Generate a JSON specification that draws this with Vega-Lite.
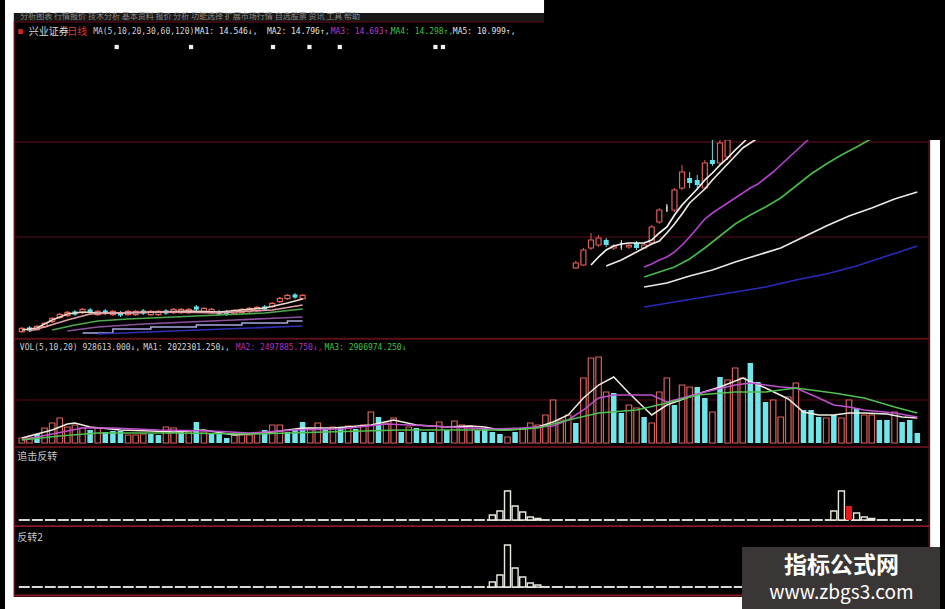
{
"$schema":"https://vega.github.io/schema/vega-lite/v6.json",
"background":"#000000",
"padding":0,
"spacing":0,
"bounds":"flush",
"config":{"view":{"stroke":null,"fill":"#000000"},"axis":{"disable":true},"legend":{"disable":true},"text":{"font":"DejaVu Sans Mono"}},
"resolve":{"scale":{"x":"independent","y":"independent","color":"independent"}},
"datasets":{
"candles":[
{"i":0,"o":0.42,"c":0.58,"h":0.65,"l":0.35,"d":"u"},{"i":1,"o":0.63,"c":0.47,"h":0.7,"l":0.4,"d":"d"},{"i":2,"o":0.52,"c":0.68,"h":0.75,"l":0.45,"d":"u"},{"i":3,"o":0.67,"c":0.83,"h":0.9,"l":0.6,"d":"u"},{"i":4,"o":0.92,"c":1.08,"h":1.15,"l":0.85,"d":"u"},{"i":5,"o":1.12,"c":1.28,"h":1.35,"l":1.05,"d":"u"},{"i":6,"o":1.22,"c":1.38,"h":1.45,"l":1.15,"d":"u"},{"i":7,"o":1.43,"c":1.27,"h":1.5,"l":1.2,"d":"d"},{"i":8,"o":1.37,"c":1.53,"h":1.6,"l":1.3,"d":"u"},{"i":9,"o":1.53,"c":1.37,"h":1.6,"l":1.3,"d":"d"},
{"i":10,"o":1.27,"c":1.43,"h":1.5,"l":1.2,"d":"u"},{"i":11,"o":1.48,"c":1.32,"h":1.55,"l":1.25,"d":"d"},{"i":12,"o":1.27,"c":1.43,"h":1.5,"l":1.2,"d":"u"},{"i":13,"o":1.38,"c":1.22,"h":1.45,"l":1.15,"d":"d"},{"i":14,"o":1.27,"c":1.43,"h":1.5,"l":1.2,"d":"u"},{"i":15,"o":1.27,"c":1.43,"h":1.5,"l":1.2,"d":"u"},{"i":16,"o":1.48,"c":1.32,"h":1.55,"l":1.25,"d":"d"},{"i":17,"o":1.27,"c":1.43,"h":1.5,"l":1.2,"d":"u"},{"i":18,"o":1.27,"c":1.43,"h":1.5,"l":1.2,"d":"u"},{"i":19,"o":1.48,"c":1.32,"h":1.55,"l":1.25,"d":"d"},
{"i":20,"o":1.37,"c":1.53,"h":1.6,"l":1.3,"d":"u"},{"i":21,"o":1.37,"c":1.53,"h":1.6,"l":1.3,"d":"u"},{"i":22,"o":1.37,"c":1.53,"h":1.6,"l":1.3,"d":"u"},{"i":23,"o":1.68,"c":1.52,"h":1.75,"l":1.45,"d":"d"},{"i":24,"o":1.42,"c":1.58,"h":1.65,"l":1.35,"d":"u"},{"i":25,"o":1.37,"c":1.53,"h":1.6,"l":1.3,"d":"u"},{"i":26,"o":1.43,"c":1.27,"h":1.5,"l":1.2,"d":"d"},{"i":27,"o":1.43,"c":1.27,"h":1.5,"l":1.2,"d":"d"},{"i":28,"o":1.32,"c":1.48,"h":1.55,"l":1.25,"d":"u"},{"i":29,"o":1.37,"c":1.53,"h":1.6,"l":1.3,"d":"u"},
{"i":30,"o":1.42,"c":1.58,"h":1.65,"l":1.35,"d":"u"},{"i":31,"o":1.47,"c":1.63,"h":1.7,"l":1.4,"d":"u"},{"i":32,"o":1.68,"c":1.52,"h":1.75,"l":1.45,"d":"d"},{"i":33,"o":1.67,"c":1.83,"h":1.9,"l":1.6,"d":"u"},{"i":34,"o":1.92,"c":2.08,"h":2.15,"l":1.85,"d":"u"},{"i":35,"o":2.07,"c":2.23,"h":2.3,"l":2.0,"d":"u"},{"i":36,"o":2.28,"c":2.12,"h":2.35,"l":2.05,"d":"d"},{"i":37,"o":2.07,"c":2.23,"h":2.3,"l":2.0,"d":"u"},
{"i":73,"o":3.6,"c":3.85,"h":3.95,"l":3.55,"d":"u"},{"i":74,"o":3.75,"c":4.5,"h":4.6,"l":3.7,"d":"u"},{"i":75,"o":4.6,"c":5.0,"h":5.35,"l":4.5,"d":"u"},{"i":76,"o":4.75,"c":5.1,"h":5.25,"l":4.65,"d":"u"},{"i":77,"o":5.0,"c":4.75,"h":5.1,"l":4.65,"d":"d"},{"i":78,"o":4.6,"c":4.7,"h":4.8,"l":4.5,"d":"u"},{"i":79,"o":4.75,"c":4.75,"h":5.0,"l":4.5,"d":"f"},{"i":80,"o":4.65,"c":4.73,"h":4.8,"l":4.55,"d":"u"},{"i":81,"o":4.85,"c":4.6,"h":4.95,"l":4.5,"d":"d"},{"i":82,"o":4.6,"c":4.75,"h":4.85,"l":4.55,"d":"u"},
{"i":83,"o":4.85,"c":5.65,"h":5.75,"l":4.8,"d":"u"},{"i":84,"o":5.9,"c":6.5,"h":6.6,"l":5.8,"d":"u"},{"i":85,"o":6.57,"c":6.57,"h":6.8,"l":6.4,"d":"f"},{"i":86,"o":6.5,"c":7.5,"h":7.6,"l":6.4,"d":"u"},{"i":87,"o":7.6,"c":8.4,"h":8.75,"l":7.5,"d":"u"},{"i":88,"o":8.1,"c":7.85,"h":8.4,"l":7.6,"d":"d"},{"i":89,"o":8.0,"c":7.75,"h":8.25,"l":7.5,"d":"d"},{"i":90,"o":7.6,"c":8.85,"h":9.0,"l":7.5,"d":"u"},{"i":91,"o":9.0,"c":8.8,"h":10.0,"l":8.7,"d":"d"},{"i":92,"o":8.85,"c":9.85,"h":10.0,"l":8.75,"d":"u"},{"i":93,"o":9.15,"c":10.0,"h":10.0,"l":9.0,"d":"u"}
],
"plines":[
{"i":0,"s":"L5","v":0.5},{"i":2,"s":"L5","v":0.6},{"i":4,"s":"L5","v":1.0},{"i":6,"s":"L5","v":1.3},{"i":8,"s":"L5","v":1.4},{"i":10,"s":"L5","v":1.35},{"i":14,"s":"L5","v":1.35},{"i":18,"s":"L5","v":1.4},{"i":22,"s":"L5","v":1.45},{"i":26,"s":"L5","v":1.4},{"i":29,"s":"L5","v":1.5},{"i":32,"s":"L5","v":1.6},{"i":35,"s":"L5","v":1.85},{"i":37,"s":"L5","v":2.05},
{"i":1,"s":"L10","v":0.45},{"i":3,"s":"L10","v":0.65},{"i":6,"s":"L10","v":1.0},{"i":9,"s":"L10","v":1.3},{"i":12,"s":"L10","v":1.35},{"i":16,"s":"L10","v":1.4},{"i":20,"s":"L10","v":1.4},{"i":26,"s":"L10","v":1.35},{"i":30,"s":"L10","v":1.45},{"i":33,"s":"L10","v":1.5},{"i":37,"s":"L10","v":1.75},
{"i":4,"s":"L20","v":0.5},{"i":7,"s":"L20","v":0.75},{"i":10,"s":"L20","v":0.95},{"i":14,"s":"L20","v":1.05},{"i":20,"s":"L20","v":1.15},{"i":26,"s":"L20","v":1.25},{"i":32,"s":"L20","v":1.35},{"i":37,"s":"L20","v":1.55},
{"i":6,"s":"L30","v":0.45},{"i":10,"s":"L30","v":0.65},{"i":16,"s":"L30","v":0.8},{"i":22,"s":"L30","v":0.9},{"i":28,"s":"L30","v":1.0},{"i":34,"s":"L30","v":1.1},{"i":37,"s":"L30","v":1.15},
{"i":10,"s":"L120","v":0.3},{"i":20,"s":"L120","v":0.45},{"i":30,"s":"L120","v":0.6},{"i":37,"s":"L120","v":0.7},
{"i":75,"s":"R5","v":3.75},{"i":76,"s":"R5","v":4.15},{"i":77,"s":"R5","v":4.5},{"i":78,"s":"R5","v":4.7},{"i":79,"s":"R5","v":4.8},{"i":80,"s":"R5","v":4.85},{"i":82,"s":"R5","v":4.85},{"i":83,"s":"R5","v":5.0},{"i":84,"s":"R5","v":5.35},{"i":85,"s":"R5","v":5.65},{"i":86,"s":"R5","v":6.25},{"i":87,"s":"R5","v":6.75},{"i":88,"s":"R5","v":7.15},{"i":89,"s":"R5","v":7.55},{"i":90,"s":"R5","v":8.0},{"i":91,"s":"R5","v":8.35},{"i":92,"s":"R5","v":8.75},{"i":93,"s":"R5","v":9.1},{"i":94,"s":"R5","v":9.5},{"i":95,"s":"R5","v":9.85},{"i":96,"s":"R5","v":10.25},
{"i":77,"s":"R10","v":3.7},{"i":78,"s":"R10","v":3.85},{"i":79,"s":"R10","v":4.0},{"i":80,"s":"R10","v":4.2},{"i":81,"s":"R10","v":4.4},{"i":82,"s":"R10","v":4.6},{"i":83,"s":"R10","v":4.8},{"i":84,"s":"R10","v":4.95},{"i":85,"s":"R10","v":5.35},{"i":86,"s":"R10","v":5.8},{"i":87,"s":"R10","v":6.3},{"i":88,"s":"R10","v":6.85},{"i":89,"s":"R10","v":7.2},{"i":90,"s":"R10","v":7.55},{"i":91,"s":"R10","v":8.0},{"i":92,"s":"R10","v":8.4},{"i":93,"s":"R10","v":8.8},{"i":94,"s":"R10","v":9.2},{"i":95,"s":"R10","v":9.6},{"i":96,"s":"R10","v":9.85},{"i":97,"s":"R10","v":10.1},
{"i":82,"s":"R20","v":3.65},{"i":83,"s":"R20","v":3.8},{"i":84,"s":"R20","v":4.0},{"i":85,"s":"R20","v":4.15},{"i":86,"s":"R20","v":4.4},{"i":87,"s":"R20","v":4.75},{"i":88,"s":"R20","v":5.15},{"i":89,"s":"R20","v":5.6},{"i":90,"s":"R20","v":6.05},{"i":91,"s":"R20","v":6.35},{"i":92,"s":"R20","v":6.6},{"i":93,"s":"R20","v":6.85},{"i":94,"s":"R20","v":7.1},{"i":95,"s":"R20","v":7.35},{"i":96,"s":"R20","v":7.6},{"i":97,"s":"R20","v":7.8},{"i":98,"s":"R20","v":8.1},{"i":99,"s":"R20","v":8.4},{"i":100,"s":"R20","v":8.75},{"i":101,"s":"R20","v":9.1},{"i":102,"s":"R20","v":9.45},{"i":103,"s":"R20","v":9.8},{"i":104,"s":"R20","v":10.15},
{"i":82,"s":"R30","v":3.15},{"i":84,"s":"R30","v":3.4},{"i":86,"s":"R30","v":3.65},{"i":88,"s":"R30","v":4.05},{"i":90,"s":"R30","v":4.6},{"i":92,"s":"R30","v":5.2},{"i":94,"s":"R30","v":5.8},{"i":96,"s":"R30","v":6.25},{"i":98,"s":"R30","v":6.65},{"i":100,"s":"R30","v":7.1},{"i":102,"s":"R30","v":7.7},{"i":104,"s":"R30","v":8.3},{"i":106,"s":"R30","v":8.8},{"i":108,"s":"R30","v":9.25},{"i":110,"s":"R30","v":9.65},{"i":112,"s":"R30","v":10.07},
{"i":82,"s":"R60","v":2.65},{"i":85,"s":"R60","v":2.85},{"i":88,"s":"R60","v":3.2},{"i":91,"s":"R60","v":3.5},{"i":94,"s":"R60","v":3.9},{"i":97,"s":"R60","v":4.25},{"i":100,"s":"R60","v":4.6},{"i":103,"s":"R60","v":5.15},{"i":106,"s":"R60","v":5.7},{"i":109,"s":"R60","v":6.2},{"i":112,"s":"R60","v":6.6},{"i":115,"s":"R60","v":7.05},{"i":118,"s":"R60","v":7.4},
{"i":82,"s":"R120","v":1.65},{"i":86,"s":"R120","v":1.9},{"i":90,"s":"R120","v":2.15},{"i":94,"s":"R120","v":2.4},{"i":98,"s":"R120","v":2.65},{"i":102,"s":"R120","v":3.0},{"i":106,"s":"R120","v":3.3},{"i":110,"s":"R120","v":3.7},{"i":114,"s":"R120","v":4.2},{"i":118,"s":"R120","v":4.7}
],
"pstep":[
{"i":8,"v":0.35},{"i":12,"v":0.55},{"i":17,"v":0.65},{"i":23,"v":0.75},{"i":29,"v":0.85},{"i":35,"v":0.95},{"i":37,"v":0.95}
],
"markers":[{"i":12.5},{"i":22.3},{"i":33.1},{"i":37.9},{"i":41.9},{"i":54.5},{"i":55.5}],
"vol":[
{"i":0,"v":25,"d":"u"},{"i":1,"v":30,"d":"u"},{"i":2,"v":45,"d":"d"},{"i":3,"v":75,"d":"u"},{"i":4,"v":100,"d":"u"},{"i":5,"v":125,"d":"u"},{"i":6,"v":80,"d":"u"},{"i":7,"v":90,"d":"u"},{"i":8,"v":75,"d":"u"},{"i":9,"v":65,"d":"d"},
{"i":10,"v":75,"d":"u"},{"i":11,"v":55,"d":"d"},{"i":12,"v":60,"d":"d"},{"i":13,"v":60,"d":"d"},{"i":14,"v":40,"d":"u"},{"i":15,"v":40,"d":"u"},{"i":16,"v":45,"d":"u"},{"i":17,"v":45,"d":"d"},{"i":18,"v":40,"d":"d"},{"i":19,"v":80,"d":"u"},
{"i":20,"v":75,"d":"u"},{"i":21,"v":55,"d":"d"},{"i":22,"v":55,"d":"u"},{"i":23,"v":105,"d":"d"},{"i":24,"v":55,"d":"u"},{"i":25,"v":50,"d":"d"},{"i":26,"v":45,"d":"d"},{"i":27,"v":25,"d":"d"},{"i":28,"v":40,"d":"u"},{"i":29,"v":40,"d":"u"},
{"i":30,"v":40,"d":"u"},{"i":31,"v":50,"d":"u"},{"i":32,"v":65,"d":"d"},{"i":33,"v":90,"d":"u"},{"i":34,"v":90,"d":"u"},{"i":35,"v":55,"d":"d"},{"i":36,"v":65,"d":"d"},{"i":37,"v":105,"d":"d"},{"i":38,"v":75,"d":"u"},{"i":39,"v":100,"d":"u"},
{"i":40,"v":65,"d":"d"},{"i":41,"v":80,"d":"u"},{"i":42,"v":75,"d":"d"},{"i":43,"v":85,"d":"u"},{"i":44,"v":70,"d":"d"},{"i":45,"v":90,"d":"u"},{"i":46,"v":155,"d":"u"},{"i":47,"v":130,"d":"d"},{"i":48,"v":100,"d":"u"},{"i":49,"v":125,"d":"u"},
{"i":50,"v":55,"d":"d"},{"i":51,"v":80,"d":"u"},{"i":52,"v":75,"d":"d"},{"i":53,"v":55,"d":"d"},{"i":54,"v":55,"d":"d"},{"i":55,"v":105,"d":"u"},{"i":56,"v":65,"d":"d"},{"i":57,"v":110,"d":"u"},{"i":58,"v":90,"d":"u"},{"i":59,"v":85,"d":"u"},
{"i":60,"v":65,"d":"d"},{"i":61,"v":70,"d":"d"},{"i":62,"v":55,"d":"d"},{"i":63,"v":45,"d":"d"},{"i":64,"v":30,"d":"u"},{"i":65,"v":55,"d":"d"},{"i":66,"v":75,"d":"u"},{"i":67,"v":100,"d":"u"},{"i":68,"v":90,"d":"u"},{"i":69,"v":140,"d":"u"},
{"i":70,"v":215,"d":"u"},{"i":71,"v":115,"d":"u"},{"i":72,"v":140,"d":"u"},{"i":73,"v":100,"d":"d"},{"i":74,"v":325,"d":"u"},{"i":75,"v":425,"d":"u"},{"i":76,"v":430,"d":"u"},{"i":77,"v":255,"d":"u"},{"i":78,"v":250,"d":"d"},{"i":79,"v":150,"d":"d"},
{"i":80,"v":190,"d":"u"},{"i":81,"v":175,"d":"u"},{"i":82,"v":130,"d":"d"},{"i":83,"v":100,"d":"u"},{"i":84,"v":255,"d":"u"},{"i":85,"v":325,"d":"u"},{"i":86,"v":190,"d":"d"},{"i":87,"v":290,"d":"u"},{"i":88,"v":280,"d":"u"},{"i":89,"v":280,"d":"d"},
{"i":90,"v":225,"d":"d"},{"i":91,"v":155,"d":"u"},{"i":92,"v":330,"d":"d"},{"i":93,"v":315,"d":"u"},{"i":94,"v":375,"d":"u"},{"i":95,"v":325,"d":"u"},{"i":96,"v":400,"d":"d"},{"i":97,"v":305,"d":"d"},{"i":98,"v":205,"d":"d"},{"i":99,"v":215,"d":"u"},
{"i":100,"v":130,"d":"u"},{"i":101,"v":230,"d":"u"},{"i":102,"v":300,"d":"u"},{"i":103,"v":165,"d":"d"},{"i":104,"v":165,"d":"d"},{"i":105,"v":130,"d":"d"},{"i":106,"v":125,"d":"u"},{"i":107,"v":140,"d":"d"},{"i":108,"v":125,"d":"u"},{"i":109,"v":215,"d":"u"},
{"i":110,"v":175,"d":"d"},{"i":111,"v":140,"d":"u"},{"i":112,"v":140,"d":"u"},{"i":113,"v":115,"d":"d"},{"i":114,"v":115,"d":"d"},{"i":115,"v":155,"d":"u"},{"i":116,"v":105,"d":"d"},{"i":117,"v":115,"d":"d"},{"i":118,"v":50,"d":"d"}
],
"vlines":[
{"i":0,"s":"V5","v":25},{"i":2,"s":"V5","v":45},{"i":4,"s":"V5","v":65},{"i":6,"s":"V5","v":95},{"i":7,"s":"V5","v":100},{"i":9,"s":"V5","v":80},{"i":13,"s":"V5","v":65},{"i":17,"s":"V5","v":60},{"i":20,"s":"V5","v":55},{"i":24,"s":"V5","v":65},{"i":28,"s":"V5","v":40},{"i":33,"s":"V5","v":55},{"i":37,"s":"V5","v":75},{"i":41,"s":"V5","v":75},{"i":46,"s":"V5","v":90},{"i":49,"s":"V5","v":115},{"i":52,"s":"V5","v":90},{"i":56,"s":"V5","v":80},{"i":59,"s":"V5","v":85},{"i":61,"s":"V5","v":80},{"i":63,"s":"V5","v":65},{"i":66,"s":"V5","v":70},{"i":68,"s":"V5","v":80},{"i":70,"s":"V5","v":105},{"i":72,"s":"V5","v":140},{"i":74,"s":"V5","v":225},{"i":76,"s":"V5","v":290},{"i":78,"s":"V5","v":330},{"i":80,"s":"V5","v":250},{"i":83,"s":"V5","v":140},{"i":85,"s":"V5","v":190},{"i":89,"s":"V5","v":245},{"i":92,"s":"V5","v":280},{"i":95,"s":"V5","v":325},{"i":98,"s":"V5","v":275},{"i":101,"s":"V5","v":220},{"i":103,"s":"V5","v":155},{"i":105,"s":"V5","v":140},{"i":107,"s":"V5","v":140},{"i":109,"s":"V5","v":150},{"i":111,"s":"V5","v":150},{"i":114,"s":"V5","v":145},{"i":116,"s":"V5","v":130},{"i":118,"s":"V5","v":125},
{"i":0,"s":"V10","v":15},{"i":4,"s":"V10","v":45},{"i":8,"s":"V10","v":75},{"i":12,"s":"V10","v":75},{"i":18,"s":"V10","v":65},{"i":25,"s":"V10","v":60},{"i":30,"s":"V10","v":50},{"i":36,"s":"V10","v":65},{"i":42,"s":"V10","v":70},{"i":48,"s":"V10","v":95},{"i":54,"s":"V10","v":85},{"i":59,"s":"V10","v":75},{"i":62,"s":"V10","v":70},{"i":66,"s":"V10","v":75},{"i":70,"s":"V10","v":85},{"i":72,"s":"V10","v":115},{"i":74,"s":"V10","v":165},{"i":76,"s":"V10","v":225},{"i":78,"s":"V10","v":240},{"i":83,"s":"V10","v":240},{"i":85,"s":"V10","v":205},{"i":87,"s":"V10","v":225},{"i":90,"s":"V10","v":255},{"i":94,"s":"V10","v":290},{"i":96,"s":"V10","v":300},{"i":98,"s":"V10","v":290},{"i":100,"s":"V10","v":280},{"i":102,"s":"V10","v":275},{"i":105,"s":"V10","v":225},{"i":107,"s":"V10","v":190},{"i":109,"s":"V10","v":180},{"i":111,"s":"V10","v":165},{"i":115,"s":"V10","v":150},{"i":118,"s":"V10","v":130},
{"i":0,"s":"V20","v":15},{"i":5,"s":"V20","v":35},{"i":10,"s":"V20","v":50},{"i":20,"s":"V20","v":50},{"i":30,"s":"V20","v":45},{"i":40,"s":"V20","v":55},{"i":50,"s":"V20","v":65},{"i":59,"s":"V20","v":65},{"i":64,"s":"V20","v":65},{"i":68,"s":"V20","v":75},{"i":72,"s":"V20","v":115},{"i":76,"s":"V20","v":150},{"i":81,"s":"V20","v":165},{"i":85,"s":"V20","v":200},{"i":89,"s":"V20","v":240},{"i":94,"s":"V20","v":255},{"i":98,"s":"V20","v":255},{"i":102,"s":"V20","v":275},{"i":107,"s":"V20","v":250},{"i":111,"s":"V20","v":225},{"i":115,"s":"V20","v":180},{"i":118,"s":"V20","v":150}
],
"zj":[{"i":62,"v":5,"d":"w"},{"i":63,"v":9,"d":"w"},{"i":64,"v":29,"d":"w"},{"i":65,"v":14,"d":"w"},{"i":66,"v":8,"d":"w"},{"i":67,"v":3,"d":"w"},{"i":68,"v":1.5,"d":"w"},{"i":107,"v":9,"d":"w"},{"i":108,"v":29,"d":"w"},{"i":109,"v":14,"d":"r"},{"i":110,"v":7,"d":"w"},{"i":111,"v":3,"d":"w"},{"i":112,"v":1.5,"d":"w"}],
"fz":[{"i":62,"v":5},{"i":63,"v":12},{"i":64,"v":42},{"i":65,"v":19},{"i":66,"v":10},{"i":67,"v":4},{"i":68,"v":2}]
},
"vconcat":[
{
"width":945,"height":340,
"layer":[
{"data":{"values":[{}]},"mark":{"type":"rect","color":"#ffffff"},"encoding":{"x":{"datum":-2.216,"type":"quantitative","scale":{"domain":[-2.216,120.99],"nice":false,"zero":false}},"x2":{"datum":68.84},"y":{"datum":16.35,"type":"quantitative","scale":{"domain":[0,17],"nice":false,"zero":false}},"y2":{"datum":17}}},
{"data":{"values":[{}]},"mark":{"type":"rect","color":"#ffffff"},"encoding":{"x":{"datum":-2.216,"type":"quantitative","scale":{"domain":[-2.216,120.99],"nice":false,"zero":false}},"x2":{"datum":-1.043},"y":{"datum":0,"type":"quantitative","scale":{"domain":[0,17],"nice":false,"zero":false}},"y2":{"datum":17}}},
{"data":{"values":[{}]},"mark":{"type":"rect","color":"#ffffff"},"encoding":{"x":{"datum":119.69,"type":"quantitative","scale":{"domain":[-2.216,120.99],"nice":false,"zero":false}},"x2":{"datum":120.99},"y":{"datum":0,"type":"quantitative","scale":{"domain":[0,17],"nice":false,"zero":false}},"y2":{"datum":10}}},
{"data":{"values":[{}]},"mark":{"type":"rect","color":"#181818"},"encoding":{"x":{"datum":-1.043,"type":"quantitative","scale":{"domain":[-2.216,120.99],"nice":false,"zero":false}},"x2":{"datum":68.84},"y":{"datum":15.95,"type":"quantitative","scale":{"domain":[0,17],"nice":false,"zero":false}},"y2":{"datum":16.35}}},
{"data":{"values":[{}]},"mark":{"type":"text","align":"left","baseline":"middle","color":"#8a8a8a","fontSize":8,"font":"Noto Sans CJK SC"},"encoding":{"x":{"datum":-0.2,"type":"quantitative","scale":{"domain":[-2.216,120.99],"nice":false,"zero":false}},"y":{"datum":16.15,"type":"quantitative","scale":{"domain":[0,17],"nice":false,"zero":false}},"text":{"value":"分析图表 行情报价    技术分析    基本资料   报价   分析   功能选择   扩展市场行情   自选股票   资讯 工具 帮助"}}},
{"data":{"values":[{}]},"mark":{"type":"rule","color":"#4a0c14","strokeWidth":1.5},"encoding":{"x":{"datum":-0.98,"type":"quantitative","scale":{"domain":[-2.216,120.99],"nice":false,"zero":false}},"x2":{"datum":68.84},"y":{"datum":15.9,"type":"quantitative","scale":{"domain":[0,17],"nice":false,"zero":false}}}},
{"data":{"values":[{}]},"mark":{"type":"rule","color":"#4a0c14","strokeWidth":1.5},"encoding":{"x":{"datum":-0.98,"type":"quantitative","scale":{"domain":[-2.216,120.99],"nice":false,"zero":false}},"x2":{"datum":119.62},"y":{"datum":9.9,"type":"quantitative","scale":{"domain":[0,17],"nice":false,"zero":false}}}},
{"data":{"values":[{}]},"mark":{"type":"rule","color":"#3e0a10","strokeWidth":1.5},"encoding":{"x":{"datum":-0.98,"type":"quantitative","scale":{"domain":[-2.216,120.99],"nice":false,"zero":false}},"x2":{"datum":119.62},"y":{"datum":5.15,"type":"quantitative","scale":{"domain":[0,17],"nice":false,"zero":false}}}},
{"data":{"values":[{}]},"mark":{"type":"rule","color":"#5c1019","strokeWidth":2},"encoding":{"x":{"datum":-0.98,"type":"quantitative","scale":{"domain":[-2.216,120.99],"nice":false,"zero":false}},"x2":{"datum":119.62},"y":{"datum":0.06,"type":"quantitative","scale":{"domain":[0,17],"nice":false,"zero":false}}}},
{"data":{"values":[{}]},"mark":{"type":"rule","color":"#5c1019","strokeWidth":1.5},"encoding":{"x":{"datum":-0.98,"type":"quantitative","scale":{"domain":[-2.216,120.99],"nice":false,"zero":false}},"y":{"datum":0,"type":"quantitative","scale":{"domain":[0,17],"nice":false,"zero":false}},"y2":{"datum":15.95}}},
{"data":{"values":[{}]},"mark":{"type":"rule","color":"#5c1019","strokeWidth":1.5},"encoding":{"x":{"datum":119.55,"type":"quantitative","scale":{"domain":[-2.216,120.99],"nice":false,"zero":false}},"y":{"datum":0,"type":"quantitative","scale":{"domain":[0,17],"nice":false,"zero":false}},"y2":{"datum":10}}},
{"data":{"values":[{}]},"mark":{"type":"text","align":"left","baseline":"middle","color":"#c82828","fontSize":8},"encoding":{"x":{"datum":-0.5,"type":"quantitative","scale":{"domain":[-2.216,120.99],"nice":false,"zero":false}},"y":{"datum":15.4,"type":"quantitative","scale":{"domain":[0,17],"nice":false,"zero":false}},"text":{"value":"■"}}},
{"data":{"values":[{}]},"mark":{"type":"text","align":"left","baseline":"middle","color":"#d8d8d8","fontSize":10,"font":"Noto Sans CJK SC"},"encoding":{"x":{"datum":0.9,"type":"quantitative","scale":{"domain":[-2.216,120.99],"nice":false,"zero":false}},"y":{"datum":15.4,"type":"quantitative","scale":{"domain":[0,17],"nice":false,"zero":false}},"text":{"value":"兴业证券"}}},
{"data":{"values":[{}]},"mark":{"type":"text","align":"left","baseline":"middle","color":"#d83a3a","fontSize":10,"font":"Noto Sans CJK SC"},"encoding":{"x":{"datum":6.0,"type":"quantitative","scale":{"domain":[-2.216,120.99],"nice":false,"zero":false}},"y":{"datum":15.4,"type":"quantitative","scale":{"domain":[0,17],"nice":false,"zero":false}},"text":{"value":"日线"}}},
{"data":{"values":[{}]},"mark":{"type":"text","align":"left","baseline":"middle","color":"#d0d0d0","fontSize":8},"encoding":{"x":{"datum":9.4,"type":"quantitative","scale":{"domain":[-2.216,120.99],"nice":false,"zero":false}},"y":{"datum":15.4,"type":"quantitative","scale":{"domain":[0,17],"nice":false,"zero":false}},"text":{"value":"MA(5,10,20,30,60,120)"}}},
{"data":{"values":[{}]},"mark":{"type":"text","align":"left","baseline":"middle","color":"#e0e0e0","fontSize":8},"encoding":{"x":{"datum":22.8,"type":"quantitative","scale":{"domain":[-2.216,120.99],"nice":false,"zero":false}},"y":{"datum":15.4,"type":"quantitative","scale":{"domain":[0,17],"nice":false,"zero":false}},"text":{"value":"MA1: 14.546↓,"}}},
{"data":{"values":[{}]},"mark":{"type":"text","align":"left","baseline":"middle","color":"#e8e4d8","fontSize":8},"encoding":{"x":{"datum":32.3,"type":"quantitative","scale":{"domain":[-2.216,120.99],"nice":false,"zero":false}},"y":{"datum":15.4,"type":"quantitative","scale":{"domain":[0,17],"nice":false,"zero":false}},"text":{"value":"MA2: 14.796↑,"}}},
{"data":{"values":[{}]},"mark":{"type":"text","align":"left","baseline":"middle","color":"#b83cc0","fontSize":8},"encoding":{"x":{"datum":40.7,"type":"quantitative","scale":{"domain":[-2.216,120.99],"nice":false,"zero":false}},"y":{"datum":15.4,"type":"quantitative","scale":{"domain":[0,17],"nice":false,"zero":false}},"text":{"value":"MA3: 14.693↑,"}}},
{"data":{"values":[{}]},"mark":{"type":"text","align":"left","baseline":"middle","color":"#40c040","fontSize":8},"encoding":{"x":{"datum":48.6,"type":"quantitative","scale":{"domain":[-2.216,120.99],"nice":false,"zero":false}},"y":{"datum":15.4,"type":"quantitative","scale":{"domain":[0,17],"nice":false,"zero":false}},"text":{"value":"MA4: 14.298↑,"}}},
{"data":{"values":[{}]},"mark":{"type":"text","align":"left","baseline":"middle","color":"#e0e0e0","fontSize":8},"encoding":{"x":{"datum":56.8,"type":"quantitative","scale":{"domain":[-2.216,120.99],"nice":false,"zero":false}},"y":{"datum":15.4,"type":"quantitative","scale":{"domain":[0,17],"nice":false,"zero":false}},"text":{"value":"MA5: 10.999↑,"}}},
{"data":{"name":"markers"},"mark":{"type":"square","color":"#f0f0f0","opacity":1,"size":18},"encoding":{"x":{"field":"i","type":"quantitative","scale":{"domain":[-2.216,120.99],"nice":false,"zero":false}},"y":{"datum":14.65,"type":"quantitative","scale":{"domain":[0,17],"nice":false,"zero":false}}}},
{"data":{"name":"candles"},"transform":[{"filter":"datum.d == 'u'"}],"mark":{"type":"rule","strokeWidth":1,"color":"#e0605a"},"encoding":{"x":{"field":"i","type":"quantitative","scale":{"domain":[-2.216,120.99],"nice":false,"zero":false}},"y":{"field":"l","type":"quantitative","scale":{"domain":[0,17],"nice":false,"zero":false}},"y2":{"field":"h"}}},
{"data":{"name":"candles"},"transform":[{"filter":"datum.d == 'd'"}],"mark":{"type":"rule","strokeWidth":1,"color":"#60e0e8"},"encoding":{"x":{"field":"i","type":"quantitative","scale":{"domain":[-2.216,120.99],"nice":false,"zero":false}},"y":{"field":"l","type":"quantitative","scale":{"domain":[0,17],"nice":false,"zero":false}},"y2":{"field":"h"}}},
{"data":{"name":"candles"},"transform":[{"filter":"datum.d == 'f'"}],"mark":{"type":"rule","strokeWidth":1,"color":"#e8e8e8"},"encoding":{"x":{"field":"i","type":"quantitative","scale":{"domain":[-2.216,120.99],"nice":false,"zero":false}},"y":{"field":"l","type":"quantitative","scale":{"domain":[0,17],"nice":false,"zero":false}},"y2":{"field":"h"}}},
{"data":{"name":"candles"},"transform":[{"filter":"datum.d == 'u'"}],"mark":{"type":"bar","fill":"#000000","stroke":"#e0605a","strokeWidth":1.2,"width":5},"encoding":{"x":{"field":"i","type":"quantitative","scale":{"domain":[-2.216,120.99],"nice":false,"zero":false}},"y":{"field":"o","type":"quantitative","scale":{"domain":[0,17],"nice":false,"zero":false}},"y2":{"field":"c"}}},
{"data":{"name":"candles"},"transform":[{"filter":"datum.d == 'd'"}],"mark":{"type":"bar","color":"#60e0e8","width":5},"encoding":{"x":{"field":"i","type":"quantitative","scale":{"domain":[-2.216,120.99],"nice":false,"zero":false}},"y":{"field":"o","type":"quantitative","scale":{"domain":[0,17],"nice":false,"zero":false}},"y2":{"field":"c"}}},
{"data":{"name":"candles"},"transform":[{"filter":"datum.d == 'f'"}],"mark":{"type":"tick","color":"#e8e8e8","thickness":1.5,"size":6},"encoding":{"x":{"field":"i","type":"quantitative","scale":{"domain":[-2.216,120.99],"nice":false,"zero":false}},"y":{"field":"o","type":"quantitative","scale":{"domain":[0,17],"nice":false,"zero":false}}}},
{"data":{"name":"pstep"},"mark":{"type":"line","interpolate":"step-after","color":"#a8a8e0","strokeWidth":1.5},"encoding":{"x":{"field":"i","type":"quantitative","scale":{"domain":[-2.216,120.99],"nice":false,"zero":false}},"y":{"field":"v","type":"quantitative","scale":{"domain":[0,17],"nice":false,"zero":false}}}},
{"data":{"name":"plines"},"mark":{"type":"line","strokeWidth":1.7},"encoding":{"x":{"field":"i","type":"quantitative","scale":{"domain":[-2.216,120.99],"nice":false,"zero":false}},"y":{"field":"v","type":"quantitative","scale":{"domain":[0,17],"nice":false,"zero":false}},"color":{"field":"s","type":"nominal","scale":{"domain":["L5","L10","L20","L30","L120","R5","R10","R20","R30","R60","R120"],"range":["#f0d8c8","#e0a0a8","#50a850","#9050a0","#3030b0","#f5f5f5","#efe6dc","#b040c8","#48b848","#e8e8e8","#2a2ab8"]}}}},
{"data":{"values":[{}]},"mark":{"type":"rect","color":"#000000"},"encoding":{"x":{"datum":68.84,"type":"quantitative","scale":{"domain":[-2.216,120.99],"nice":false,"zero":false}},"x2":{"datum":120.99},"y":{"datum":10.0,"type":"quantitative","scale":{"domain":[0,17],"nice":false,"zero":false}},"y2":{"datum":17}}}
]
},
{
"width":945,"height":108,
"layer":[
{"data":{"values":[{}]},"mark":{"type":"rect","color":"#ffffff"},"encoding":{"x":{"datum":-2.216,"type":"quantitative","scale":{"domain":[-2.216,120.99],"nice":false,"zero":false}},"x2":{"datum":-1.043},"y":{"datum":-25,"type":"quantitative","scale":{"domain":[-25,515],"nice":false,"zero":false}},"y2":{"datum":515}}},
{"data":{"values":[{}]},"mark":{"type":"rect","color":"#ffffff"},"encoding":{"x":{"datum":119.69,"type":"quantitative","scale":{"domain":[-2.216,120.99],"nice":false,"zero":false}},"x2":{"datum":120.99},"y":{"datum":-25,"type":"quantitative","scale":{"domain":[-25,515],"nice":false,"zero":false}},"y2":{"datum":515}}},
{"data":{"values":[{}]},"mark":{"type":"rule","color":"#5c1019","strokeWidth":1.5},"encoding":{"x":{"datum":-0.98,"type":"quantitative","scale":{"domain":[-2.216,120.99],"nice":false,"zero":false}},"y":{"datum":-25,"type":"quantitative","scale":{"domain":[-25,515],"nice":false,"zero":false}},"y2":{"datum":515}}},
{"data":{"values":[{}]},"mark":{"type":"rule","color":"#5c1019","strokeWidth":1.5},"encoding":{"x":{"datum":119.55,"type":"quantitative","scale":{"domain":[-2.216,120.99],"nice":false,"zero":false}},"y":{"datum":-25,"type":"quantitative","scale":{"domain":[-25,515],"nice":false,"zero":false}},"y2":{"datum":515}}},
{"data":{"values":[{}]},"mark":{"type":"rule","color":"#3e0a10","strokeWidth":1.5},"encoding":{"x":{"datum":-0.98,"type":"quantitative","scale":{"domain":[-2.216,120.99],"nice":false,"zero":false}},"x2":{"datum":119.62},"y":{"datum":215,"type":"quantitative","scale":{"domain":[-25,515],"nice":false,"zero":false}}}},
{"data":{"values":[{}]},"mark":{"type":"rule","color":"#5c1019","strokeWidth":2},"encoding":{"x":{"datum":-0.98,"type":"quantitative","scale":{"domain":[-2.216,120.99],"nice":false,"zero":false}},"x2":{"datum":119.62},"y":{"datum":-20,"type":"quantitative","scale":{"domain":[-25,515],"nice":false,"zero":false}}}},
{"data":{"values":[{}]},"mark":{"type":"text","align":"left","baseline":"middle","color":"#d0d0d0","fontSize":8},"encoding":{"x":{"datum":-0.26,"type":"quantitative","scale":{"domain":[-2.216,120.99],"nice":false,"zero":false}},"y":{"datum":475,"type":"quantitative","scale":{"domain":[-25,515],"nice":false,"zero":false}},"text":{"value":"VOL(5,10,20) 928613.000↓,"}}},
{"data":{"values":[{}]},"mark":{"type":"text","align":"left","baseline":"middle","color":"#d8d8d8","fontSize":8},"encoding":{"x":{"datum":16.0,"type":"quantitative","scale":{"domain":[-2.216,120.99],"nice":false,"zero":false}},"y":{"datum":475,"type":"quantitative","scale":{"domain":[-25,515],"nice":false,"zero":false}},"text":{"value":"MA1: 2022301.250↓,"}}},
{"data":{"values":[{}]},"mark":{"type":"text","align":"left","baseline":"middle","color":"#b030c0","fontSize":8},"encoding":{"x":{"datum":28.2,"type":"quantitative","scale":{"domain":[-2.216,120.99],"nice":false,"zero":false}},"y":{"datum":475,"type":"quantitative","scale":{"domain":[-25,515],"nice":false,"zero":false}},"text":{"value":"MA2: 2497885.750↓,"}}},
{"data":{"values":[{}]},"mark":{"type":"text","align":"left","baseline":"middle","color":"#40c040","fontSize":8},"encoding":{"x":{"datum":39.9,"type":"quantitative","scale":{"domain":[-2.216,120.99],"nice":false,"zero":false}},"y":{"datum":475,"type":"quantitative","scale":{"domain":[-25,515],"nice":false,"zero":false}},"text":{"value":"MA3: 2906974.250↓"}}},
{"data":{"name":"vol"},"transform":[{"filter":"datum.d == 'u'"}],"mark":{"type":"bar","fill":"#000000","stroke":"#d8605c","strokeWidth":1.2,"width":5.5},"encoding":{"x":{"field":"i","type":"quantitative","scale":{"domain":[-2.216,120.99],"nice":false,"zero":false}},"y":{"field":"v","type":"quantitative","scale":{"domain":[-25,515],"nice":false,"zero":false}},"y2":{"datum":0}}},
{"data":{"name":"vol"},"transform":[{"filter":"datum.d == 'd'"}],"mark":{"type":"bar","color":"#70e6ea","width":5.5},"encoding":{"x":{"field":"i","type":"quantitative","scale":{"domain":[-2.216,120.99],"nice":false,"zero":false}},"y":{"field":"v","type":"quantitative","scale":{"domain":[-25,515],"nice":false,"zero":false}},"y2":{"datum":0}}},
{"data":{"name":"vlines"},"mark":{"type":"line","strokeWidth":1.5},"encoding":{"x":{"field":"i","type":"quantitative","scale":{"domain":[-2.216,120.99],"nice":false,"zero":false}},"y":{"field":"v","type":"quantitative","scale":{"domain":[-25,515],"nice":false,"zero":false}},"color":{"field":"s","type":"nominal","scale":{"domain":["V5","V10","V20"],"range":["#f0ece0","#c050d0","#50c050"]}}}}
]
},
{
"width":945,"height":79,
"layer":[
{"data":{"values":[{}]},"mark":{"type":"rect","color":"#ffffff"},"encoding":{"x":{"datum":-2.216,"type":"quantitative","scale":{"domain":[-2.216,120.99],"nice":false,"zero":false}},"x2":{"datum":-1.043},"y":{"datum":-7,"type":"quantitative","scale":{"domain":[-7,72],"nice":false,"zero":false}},"y2":{"datum":72}}},
{"data":{"values":[{}]},"mark":{"type":"rect","color":"#ffffff"},"encoding":{"x":{"datum":119.69,"type":"quantitative","scale":{"domain":[-2.216,120.99],"nice":false,"zero":false}},"x2":{"datum":120.99},"y":{"datum":-7,"type":"quantitative","scale":{"domain":[-7,72],"nice":false,"zero":false}},"y2":{"datum":72}}},
{"data":{"values":[{}]},"mark":{"type":"rule","color":"#5c1019","strokeWidth":1.5},"encoding":{"x":{"datum":-0.98,"type":"quantitative","scale":{"domain":[-2.216,120.99],"nice":false,"zero":false}},"y":{"datum":-7,"type":"quantitative","scale":{"domain":[-7,72],"nice":false,"zero":false}},"y2":{"datum":72}}},
{"data":{"values":[{}]},"mark":{"type":"rule","color":"#5c1019","strokeWidth":1.5},"encoding":{"x":{"datum":119.55,"type":"quantitative","scale":{"domain":[-2.216,120.99],"nice":false,"zero":false}},"y":{"datum":-7,"type":"quantitative","scale":{"domain":[-7,72],"nice":false,"zero":false}},"y2":{"datum":72}}},
{"data":{"values":[{}]},"mark":{"type":"rule","color":"#8a1a28","strokeWidth":2},"encoding":{"x":{"datum":-0.98,"type":"quantitative","scale":{"domain":[-2.216,120.99],"nice":false,"zero":false}},"x2":{"datum":119.62},"y":{"datum":-6.2,"type":"quantitative","scale":{"domain":[-7,72],"nice":false,"zero":false}}}},
{"data":{"values":[{}]},"mark":{"type":"text","align":"left","baseline":"middle","color":"#c8c8c8","fontSize":10,"font":"Noto Sans CJK SC"},"encoding":{"x":{"datum":-0.6,"type":"quantitative","scale":{"domain":[-2.216,120.99],"nice":false,"zero":false}},"y":{"datum":63,"type":"quantitative","scale":{"domain":[-7,72],"nice":false,"zero":false}},"text":{"value":"追击反转"}}},
{"data":{"values":[{}]},"mark":{"type":"rule","color":"#d8d8d8","strokeWidth":2,"strokeDash":[11,2]},"encoding":{"x":{"datum":-0.4,"type":"quantitative","scale":{"domain":[-2.216,120.99],"nice":false,"zero":false}},"x2":{"datum":118.6},"y":{"datum":0,"type":"quantitative","scale":{"domain":[-7,72],"nice":false,"zero":false}}}},
{"data":{"name":"zj"},"transform":[{"filter":"datum.d == 'w'"}],"mark":{"type":"bar","fill":"#000000","stroke":"#e8e8dc","strokeWidth":1.4,"width":6},"encoding":{"x":{"field":"i","type":"quantitative","scale":{"domain":[-2.216,120.99],"nice":false,"zero":false}},"y":{"field":"v","type":"quantitative","scale":{"domain":[-7,72],"nice":false,"zero":false}},"y2":{"datum":0}}},
{"data":{"name":"zj"},"transform":[{"filter":"datum.d == 'r'"}],"mark":{"type":"bar","color":"#e81818","width":6},"encoding":{"x":{"field":"i","type":"quantitative","scale":{"domain":[-2.216,120.99],"nice":false,"zero":false}},"y":{"field":"v","type":"quantitative","scale":{"domain":[-7,72],"nice":false,"zero":false}},"y2":{"datum":0}}}
]
},
{
"width":945,"height":82,
"layer":[
{"data":{"values":[{}]},"mark":{"type":"rect","color":"#ffffff"},"encoding":{"x":{"datum":-2.216,"type":"quantitative","scale":{"domain":[-2.216,120.99],"nice":false,"zero":false}},"x2":{"datum":-1.043},"y":{"datum":-22,"type":"quantitative","scale":{"domain":[-22,60],"nice":false,"zero":false}},"y2":{"datum":60}}},
{"data":{"values":[{}]},"mark":{"type":"rect","color":"#ffffff"},"encoding":{"x":{"datum":119.69,"type":"quantitative","scale":{"domain":[-2.216,120.99],"nice":false,"zero":false}},"x2":{"datum":120.99},"y":{"datum":-22,"type":"quantitative","scale":{"domain":[-22,60],"nice":false,"zero":false}},"y2":{"datum":60}}},
{"data":{"values":[{}]},"mark":{"type":"rect","color":"#ffffff"},"encoding":{"x":{"datum":-2.216,"type":"quantitative","scale":{"domain":[-2.216,120.99],"nice":false,"zero":false}},"x2":{"datum":120.99},"y":{"datum":-22,"type":"quantitative","scale":{"domain":[-22,60],"nice":false,"zero":false}},"y2":{"datum":-10}}},
{"data":{"values":[{}]},"mark":{"type":"rule","color":"#5c1019","strokeWidth":1.5},"encoding":{"x":{"datum":-0.98,"type":"quantitative","scale":{"domain":[-2.216,120.99],"nice":false,"zero":false}},"y":{"datum":-10,"type":"quantitative","scale":{"domain":[-22,60],"nice":false,"zero":false}},"y2":{"datum":60}}},
{"data":{"values":[{}]},"mark":{"type":"rule","color":"#5c1019","strokeWidth":1.5},"encoding":{"x":{"datum":119.55,"type":"quantitative","scale":{"domain":[-2.216,120.99],"nice":false,"zero":false}},"y":{"datum":-10,"type":"quantitative","scale":{"domain":[-22,60],"nice":false,"zero":false}},"y2":{"datum":60}}},
{"data":{"values":[{}]},"mark":{"type":"rule","color":"#8a1a28","strokeWidth":2},"encoding":{"x":{"datum":-0.98,"type":"quantitative","scale":{"domain":[-2.216,120.99],"nice":false,"zero":false}},"x2":{"datum":119.62},"y":{"datum":-8.5,"type":"quantitative","scale":{"domain":[-22,60],"nice":false,"zero":false}}}},
{"data":{"values":[{}]},"mark":{"type":"text","align":"left","baseline":"middle","color":"#c8c8c8","fontSize":10,"font":"Noto Sans CJK SC"},"encoding":{"x":{"datum":-0.6,"type":"quantitative","scale":{"domain":[-2.216,120.99],"nice":false,"zero":false}},"y":{"datum":49,"type":"quantitative","scale":{"domain":[-22,60],"nice":false,"zero":false}},"text":{"value":"反转2"}}},
{"data":{"values":[{}]},"mark":{"type":"rule","color":"#d8d8d8","strokeWidth":2,"strokeDash":[11,2]},"encoding":{"x":{"datum":-0.4,"type":"quantitative","scale":{"domain":[-2.216,120.99],"nice":false,"zero":false}},"x2":{"datum":118.6},"y":{"datum":0,"type":"quantitative","scale":{"domain":[-22,60],"nice":false,"zero":false}}}},
{"data":{"name":"fz"},"mark":{"type":"bar","fill":"#000000","stroke":"#e8e8dc","strokeWidth":1.4,"width":6},"encoding":{"x":{"field":"i","type":"quantitative","scale":{"domain":[-2.216,120.99],"nice":false,"zero":false}},"y":{"field":"v","type":"quantitative","scale":{"domain":[-22,60],"nice":false,"zero":false}},"y2":{"datum":0}}},
{"data":{"values":[{}]},"mark":{"type":"rect","color":"#3b3636"},"encoding":{"x":{"datum":94.9,"type":"quantitative","scale":{"domain":[-2.216,120.99],"nice":false,"zero":false}},"x2":{"datum":120.99},"y":{"datum":-22,"type":"quantitative","scale":{"domain":[-22,60],"nice":false,"zero":false}},"y2":{"datum":40}}},
{"data":{"values":[{}]},"mark":{"type":"text","align":"center","baseline":"middle","color":"#ffffff","fontSize":23,"fontWeight":"bold","font":"Noto Sans CJK SC"},"encoding":{"x":{"datum":108,"type":"quantitative","scale":{"domain":[-2.216,120.99],"nice":false,"zero":false}},"y":{"datum":21,"type":"quantitative","scale":{"domain":[-22,60],"nice":false,"zero":false}},"text":{"value":"指标公式网"}}},
{"data":{"values":[{}]},"mark":{"type":"text","align":"center","baseline":"middle","color":"#ffffff","fontSize":19,"font":"Noto Sans CJK SC"},"encoding":{"x":{"datum":108,"type":"quantitative","scale":{"domain":[-2.216,120.99],"nice":false,"zero":false}},"y":{"datum":-6,"type":"quantitative","scale":{"domain":[-22,60],"nice":false,"zero":false}},"text":{"value":"www.zbgs3.com"}}}
]
}
]
}
